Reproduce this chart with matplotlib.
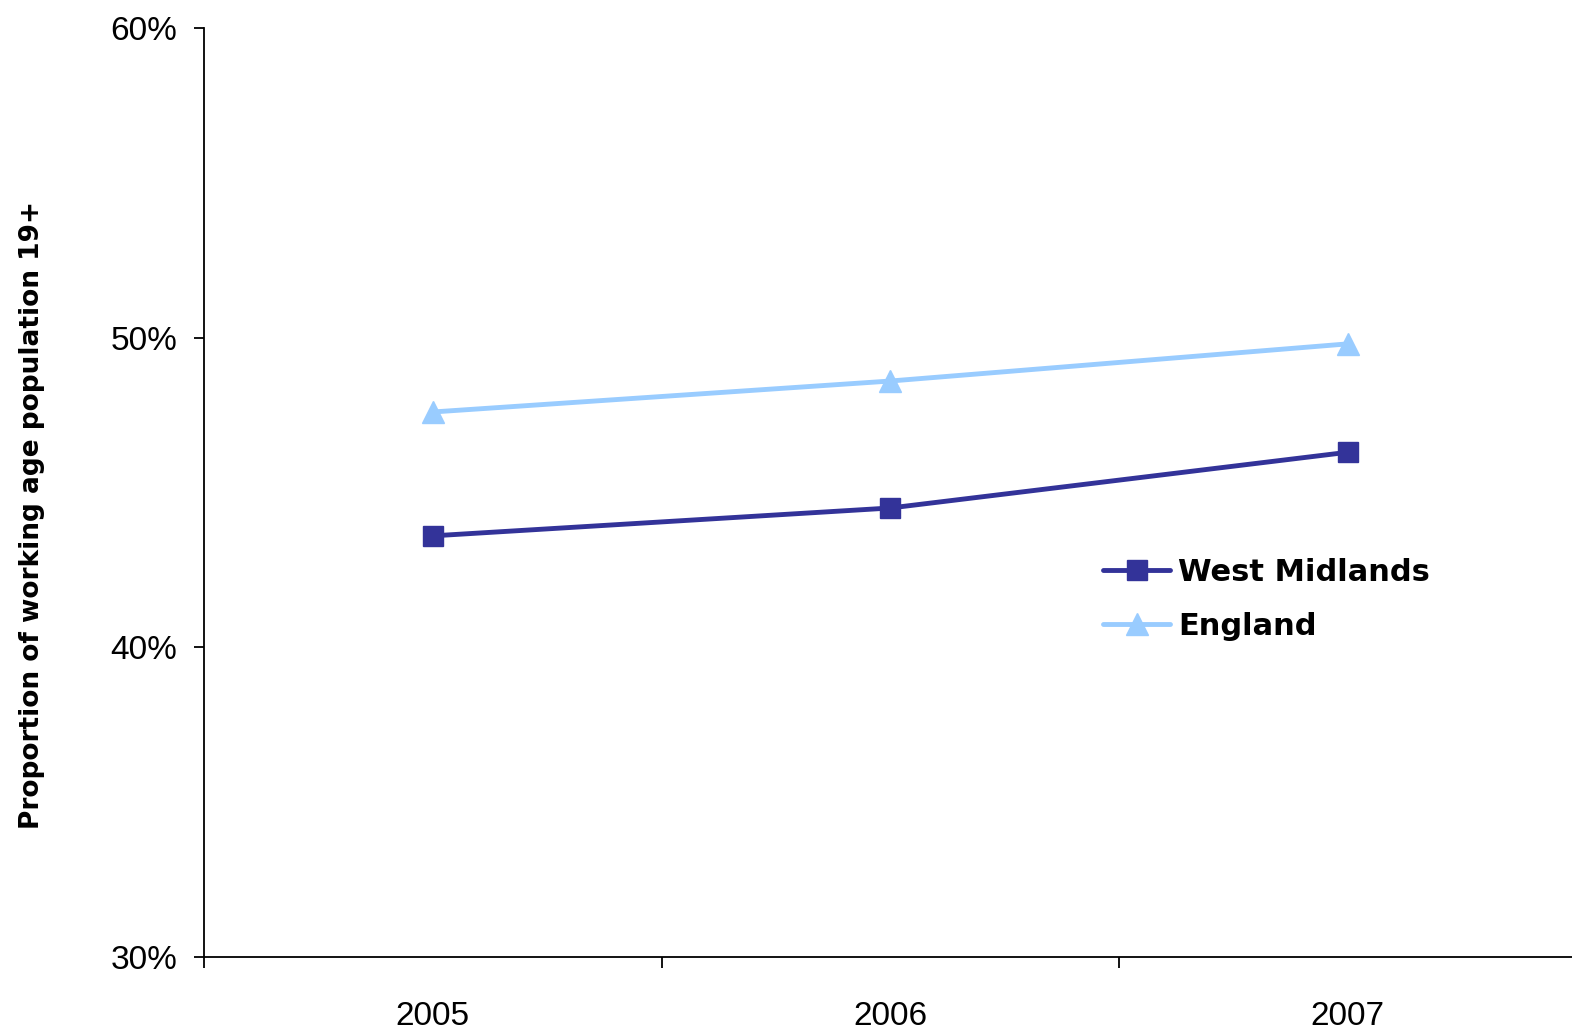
import matplotlib
matplotlib.use('Agg')
import matplotlib.pyplot as plt
from matplotlib.ticker import FixedLocator, NullFormatter, FixedFormatter

# data
years = ['2005', '2006', '2007']
west_midlands = [43.6, 44.5, 46.3]
england = [47.6, 48.6, 49.8]
y_ticks = [30, 40, 50, 60]
y_labels = ['30%', '40%', '50%', '60%']

fig = plt.figure(figsize=(15.72, 10.35), dpi=100)
ax = fig.add_axes([204 / 1572, 1 - 957 / 1035, 1368 / 1572, 929 / 1035])

x = list(range(len(years)))
ax.plot(x, west_midlands, color='#333399', lw=3.5, marker='s', ms=14,
        label='West Midlands', solid_capstyle='round')
ax.plot(x, england, color='#99CCFF', lw=3.5, marker='^', ms=16,
        label='England', solid_capstyle='round')

ax.set_xlim(-0.5, 2.49)
ax.set_ylim(30, 60)

tick_font = dict(family=['Liberation Sans Narrow', 'Liberation Sans', 'DejaVu Sans'], size=24)

# category boundaries get tick marks, centres get labels
ax.xaxis.set_major_locator(FixedLocator([-0.5, 0.5, 1.5, 2.5]))
ax.xaxis.set_major_formatter(NullFormatter())
ax.xaxis.set_minor_locator(FixedLocator(x))
ax.xaxis.set_minor_formatter(FixedFormatter(years))
ax.tick_params(axis='x', which='major', direction='out', length=8, width=1.3)
ax.tick_params(axis='x', which='minor', length=0, pad=32)
for lab in ax.get_xticklabels(minor=True):
    lab.set_fontproperties(matplotlib.font_manager.FontProperties(**tick_font))

ax.set_yticks(y_ticks)
ax.set_yticklabels(y_labels)
ax.tick_params(axis='y', direction='out', length=7, width=1.3, pad=12)
for lab in ax.get_yticklabels():
    lab.set_fontproperties(matplotlib.font_manager.FontProperties(**tick_font))

for s in ['top', 'right']:
    ax.spines[s].set_visible(False)
for s in ['left', 'bottom']:
    ax.spines[s].set_linewidth(1.3)

fig.text(32 / 1572, 1 - 515 / 1035, 'Proportion of working age population 19+',
         rotation=90, ha='center', va='center', fontsize=19, fontweight='bold',
         family='DejaVu Sans')

ax.legend(loc='center left', bbox_to_anchor=(0.637, 0.385), frameon=False,
          prop=dict(family='DejaVu Sans', weight='bold', size=22),
          handlelength=2.2, handletextpad=0.25, labelspacing=0.8)

fig.savefig('out.png', dpi=100)
